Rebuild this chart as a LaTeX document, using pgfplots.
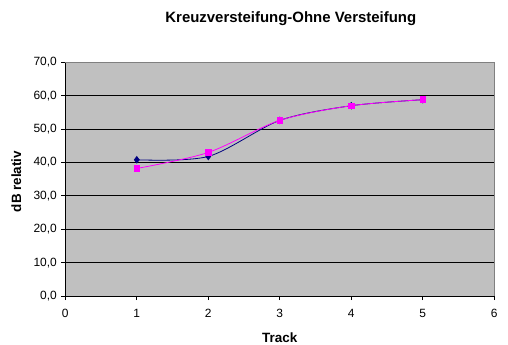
\documentclass[border=0pt]{standalone}
\usepackage{fontspec}
\setmainfont{Liberation Sans}
\usepackage{pgfplots}
\pgfplotsset{compat=1.18}
\definecolor{plotgray}{RGB}{192,192,192}
\definecolor{bordergray}{RGB}{128,128,128}
\definecolor{navyblue}{RGB}{0,0,128}
\definecolor{magentaC}{RGB}{255,0,255}
\begin{document}
\begin{tikzpicture}
\path[use as bounding box] (-65.3bp,-49bp) rectangle (442.7bp,296bp);
\begin{axis}[
  scale only axis, width=429bp, height=233.7bp,
  xmin=0, xmax=6, ymin=0, ymax=70,
  xtick={0,1,2,3,4,5,6}, ytick={0,10,20,30,40,50,60,70},
  axis background/.style={fill=plotgray},
  axis lines*=left,
  axis line style={black, line width=0.8pt},
  ymajorgrids, grid style={black, line width=0.8pt},
  tick align=outside, major tick length=4bp,
  tick style={black, line width=0.8pt},
  /pgf/number format/assume math mode=true,
  xticklabel style={font=\fontsize{12}{14}\selectfont, yshift=-6bp, /pgf/number format/fixed, /pgf/number format/precision=0},
  yticklabel style={font=\fontsize{12}{14}\selectfont, xshift=-1bp, /pgf/number format/fixed, /pgf/number format/fixed zerofill, /pgf/number format/precision=1, /pgf/number format/use comma},
  title={Kreuzversteifung-Ohne Versteifung},
  title style={font=\bfseries\fontsize{15}{17}\selectfont, at={(axis description cs:0.5,1)}, anchor=center, yshift=38bp, xshift=11bp},
  xlabel={Track},
  xlabel style={font=\bfseries\fontsize{13.5}{16}\selectfont, at={(axis description cs:0.5,0)}, anchor=center, yshift=-41.5bp},
  ylabel={dB relativ},
  ylabel style={font=\bfseries\fontsize{13.5}{16}\selectfont, at={(axis description cs:-0.114,0.49)}, anchor=center, rotate=0},
  clip=false,
]
\draw[bordergray, line width=0.8pt] (rel axis cs:0,1) -- (rel axis cs:1,1) -- (rel axis cs:1,0);
\addplot[navyblue, line width=0.8pt, smooth, mark=diamond*, mark size=3.2bp, mark options={fill=navyblue, draw=navyblue}]
  coordinates {(1,40.8) (2,41.8) (3,52.6) (4,57.0) (5,58.8)};
\addplot[magentaC, line width=0.8pt, smooth, mark=square*, mark size=2.8bp, mark options={fill=magentaC, draw=magentaC}]
  coordinates {(1,38.2) (2,43.0) (3,52.6) (4,57.0) (5,58.8)};
\end{axis}
\end{tikzpicture}
\end{document}
